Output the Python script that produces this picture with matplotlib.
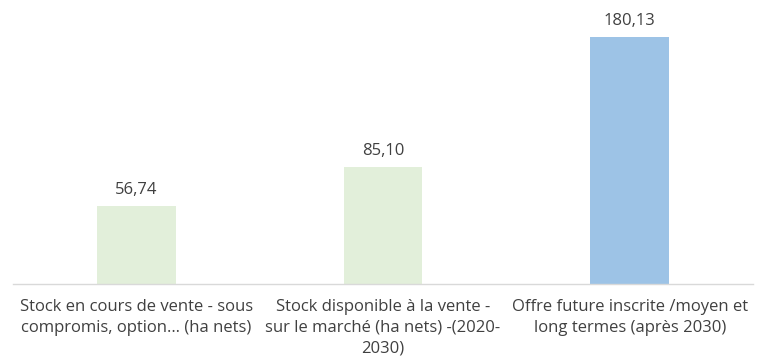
import matplotlib.pyplot as plt

# Stock de foncier économique (ha nets)
categories = [
    "Stock en cours de vente - sous\ncompromis, option\u2026 (ha nets)",
    "Stock disponible à la vente -\nsur le marché (ha nets) -(2020-\n2030)",
    "Offre future inscrite /moyen et\nlong termes (après 2030)",
]
values = [56.74, 85.10, 180.13]
colors = ["#E2EFDA", "#E2EFDA", "#9DC3E6"]

plt.rcParams['font.family'] = ['Open Sans', 'DejaVu Sans']

fig = plt.figure(figsize=(7.65, 3.58), dpi=100)
ax = fig.add_axes([13 / 765, 74 / 358, 740 / 765, 274 / 358])

x = range(len(values))
bars = ax.bar(x, values, width=0.32, color=colors)

for b, v in zip(bars, values):
    ax.text(b.get_x() + b.get_width() / 2, v + 6, f"{v:.2f}".replace(".", ","),
            ha="center", va="bottom", fontsize=12, color="#404040")

ax.set_xlim(-0.5, 2.5)
ax.set_ylim(0, 200)
ax.set_yticks([])
ax.set_xticks(list(x))
ax.set_xticklabels(categories, fontsize=12, color="#404040", linespacing=1.38)
ax.tick_params(axis="x", length=0, pad=11)

for s in ["top", "left", "right"]:
    ax.spines[s].set_visible(False)
ax.spines["bottom"].set_color("#D9D9D9")
ax.spines["bottom"].set_linewidth(1)

fig.savefig("out.png", dpi=100)
